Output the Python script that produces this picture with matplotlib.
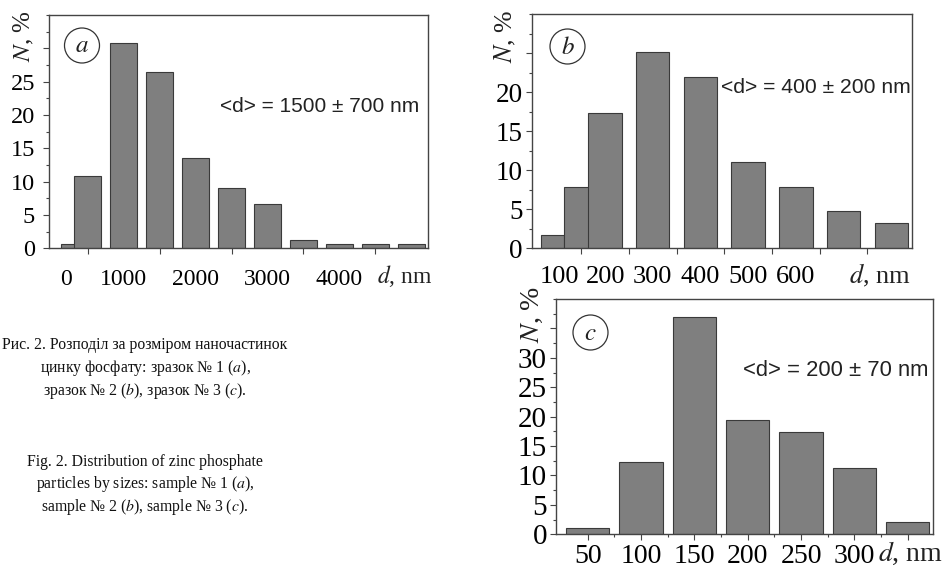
import matplotlib
matplotlib.use("Agg")
import matplotlib.pyplot as plt
from matplotlib.patches import Ellipse
from matplotlib.ticker import MultipleLocator

plt.rcParams["mathtext.fontset"] = "stix"
SERIF = "Liberation Serif"
SANS = "Liberation Sans"

# sample a: bin centres (nm) and share of particles (%)
a_d = [310, 500, 1000, 1500, 2000, 2500, 3000, 3500, 4000, 4500, 5000]
a_n = [0.7, 10.8, 30.8, 26.4, 13.5, 9.1, 6.6, 1.25, 0.65, 0.65, 0.65]
a_w = [376] * 11
a_labels = ["0", "1000", "2000", "3000", "4000"]

# sample b
b_d = [90, 140, 200, 300, 400, 500, 600, 700, 800]
b_n = [1.7, 7.8, 17.3, 25.1, 21.9, 11.0, 7.8, 4.8, 3.3]
b_w = [49, 51, 70, 70, 70, 70, 70, 70, 70]
b_labels = ["100", "200", "300", "400", "500", "600"]

# sample c
c_d = [50, 100, 150, 200, 250, 300, 350]
c_n = [1.0, 12.3, 36.9, 19.4, 17.4, 11.3, 2.05]
c_w = [40.6] * 7
c_labels = ["50", "100", "150", "200", "250", "300", ""]

W, H = 945, 569
fig = plt.figure(figsize=(W / 100, H / 100), dpi=100)


def px_axes(x0, y0, x1, y1):
    return fig.add_axes([x0 / W, 1 - y1 / H, (x1 - x0) / W, (y1 - y0) / H])


def style(ax, fs_x, fs_y, ymax, ylab_max, ypad):
    for s in ax.spines.values():
        s.set_color("#444444")
        s.set_linewidth(1.0)
    ax.set_ylim(0, ymax)
    ax.yaxis.set_major_locator(MultipleLocator(5))
    ax.yaxis.set_minor_locator(MultipleLocator(2.5))
    yt = list(range(0, ymax, 5))
    ax.set_yticks(yt, [str(v) if v <= ylab_max else "" for v in yt])
    ax.tick_params(axis="y", which="major", direction="out", length=4.5,
                   width=0.8, color="#444444", pad=ypad)
    ax.tick_params(axis="y", which="minor", direction="out", length=2.5,
                   width=0.8, color="#444444")
    ax.tick_params(axis="x", which="both", direction="out", width=0.8,
                   color="#444444")
    for lab in ax.get_xticklabels():
        lab.set_family(SERIF)
        lab.set_fontsize(fs_x)
    for lab in ax.get_yticklabels():
        lab.set_family(SERIF)
        lab.set_fontsize(fs_y)


def circle_label(cx, cy, letter, fs):
    fig.patches.append(Ellipse((cx / W, 1 - cy / H), 35 / W, 35 / H,
                               transform=fig.transFigure, fill=False,
                               edgecolor="#333333", lw=0.9))
    fig.text(cx / W, 1 - cy / H, "$" + letter + "$", ha="center",
             va="center", fontsize=fs, color="#222222")


def ylab(x, y, fs):
    fig.text(x / W, 1 - y / H, "$N$, %", rotation=90, ha="center",
             va="center", fontsize=fs, family=SERIF, color="#222222")


bar_kw = dict(color="#7f7f7f", edgecolor="#3a3a3a", linewidth=0.8)

# panel a
ax = px_axes(49.5, 15, 428, 248.3)
ax.bar(a_d[0], a_n[0], width=a_w[0], zorder=1, **bar_kw)
ax.bar(a_d[1:], a_n[1:], width=a_w[1:], zorder=2, **bar_kw)
ax.set_xlim(-36, 5235)
ax.set_xticks([200, 1000, 2000, 3000, 4000], a_labels)
ax.set_xticks([500, 1500, 2500, 3500, 4500], minor=True)
ax.tick_params(axis="x", which="major", length=0, pad=15)
ax.tick_params(axis="x", which="minor", length=4)
style(ax, 17, 17.5, 35, 25, 6)
ax.text(0.45, 0.606, "<d> = 1500 ± 700 nm", transform=ax.transAxes,
        ha="left", va="center", fontsize=15, family=SANS, color="#222222")
fig.text(405 / W, 1 - 276 / H, "$d$, nm", ha="center", va="center",
         fontsize=17, family=SERIF, color="#222222")
circle_label(82, 45.5, "a", 18)
ylab(24, 36, 18)

# panel b
ax = px_axes(531.7, 14, 911.7, 248.3)
ax.bar(b_d, b_n, width=b_w, **bar_kw)
ax.set_xlim(46, 843)
ax.set_xticks([105, 200, 300, 400, 500, 600], b_labels)
ax.set_xticks([150, 250, 350, 450, 550, 650, 750], minor=True)
ax.tick_params(axis="x", which="major", length=0, pad=13)
ax.tick_params(axis="x", which="minor", length=4)
style(ax, 19, 19.5, 30, 20, 2)
ax.text(0.498, 0.688, "<d> = 400 ± 200 nm", transform=ax.transAxes,
        ha="left", va="center", fontsize=15.2, family=SANS, color="#222222")
fig.text(880 / W, 1 - 275 / H, "$d$, nm", ha="center", va="center",
         fontsize=19, family=SERIF, color="#222222")
circle_label(567.5, 46.5, "b", 18)
ylab(505, 36, 18.5)

# panel c
ax = px_axes(556, 299, 933.3, 534.3)
ax.bar(c_d, c_n, width=c_w, **bar_kw)
ax.set_xlim(20.3, 374)
ax.set_xticks(c_d, c_labels)
ax.set_xticks([75, 125, 175, 225, 275, 325], minor=True)
ax.tick_params(axis="x", which="major", length=4, pad=3)
ax.tick_params(axis="x", which="minor", length=2.5)
style(ax, 20, 21, 40, 30, 2)
ax.text(0.496, 0.698, "<d> = 200 ± 70 nm", transform=ax.transAxes,
        ha="left", va="center", fontsize=15.8, family=SANS, color="#222222")
fig.text(943 / W, 1 - 553 / H, "$d$, nm", ha="right", va="center",
         fontsize=20, family=SERIF, color="#222222")
circle_label(590.5, 332.5, "c", 18)
ylab(532, 314, 20)

# caption
cap_ua = ["Рис. 2. Розподіл за розміром наночастинок",
          "цинку фосфату: зразок № 1 ($a$),",
          "зразок № 2 ($b$), зразок № 3 ($c$)."]
cap_en = ["Fig. 2. Distribution of zinc phosphate",
          "particles by sizes: sample № 1 ($a$),",
          "sample № 2 ($b$), sample № 3 ($c$)."]
for i, line in enumerate(cap_ua):
    fig.text(145 / W, 1 - (349 + 23 * i) / H, line, ha="center",
             va="baseline", fontsize=11.3, family=SERIF, color="#111111")
for i, line in enumerate(cap_en):
    fig.text(145 / W, 1 - (466 + 22.5 * i) / H, line, ha="center",
             va="baseline", fontsize=11.3, family=SERIF, color="#111111")

fig.savefig("out.png", dpi=100)
